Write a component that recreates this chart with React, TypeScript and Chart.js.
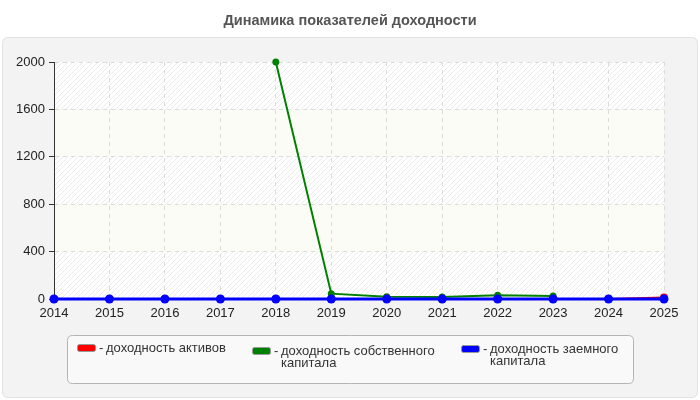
import React, { useRef, useEffect } from "react";
import { Chart, registerables, Plugin } from "chart.js";

Chart.register(...registerables);

const years = ["2014", "2015", "2016", "2017", "2018", "2019", "2020", "2021", "2022", "2023", "2024", "2025"];
const assetsReturn = [0, 0, 0, 0, 0, 0, 0, 0, 0, 0, 0, 12];
const equityReturn = [null, null, null, null, 2000, 45, 18, 17, 32, 25, null, null];
const debtReturn = [0, 0, 0, 0, 0, 0, 0, 0, 0, 0, 0, 0];
const yTicks = [0, 400, 800, 1200, 1600, 2000];

const chartTitle = "Динамика показателей доходности";
const legendItems = [
  { color: "#ff0000", lines: ["доходность активов"] },
  { color: "#008000", lines: ["доходность собственного", "капитала"] },
  { color: "#0000ff", lines: ["доходность заемного", "капитала"] },
];

const FONT = "'Liberation Sans', Arial, sans-serif";

function roundRect(ctx: CanvasRenderingContext2D, x: number, y: number, w: number, h: number, r: number) {
  ctx.beginPath();
  ctx.moveTo(x + r, y);
  ctx.lineTo(x + w - r, y);
  ctx.quadraticCurveTo(x + w, y, x + w, y + r);
  ctx.lineTo(x + w, y + h - r);
  ctx.quadraticCurveTo(x + w, y + h, x + w - r, y + h);
  ctx.lineTo(x + r, y + h);
  ctx.quadraticCurveTo(x, y + h, x, y + h - r);
  ctx.lineTo(x, y + r);
  ctx.quadraticCurveTo(x, y, x + r, y);
  ctx.closePath();
}

function makeHatch(ctx: CanvasRenderingContext2D) {
  const c = document.createElement("canvas");
  c.width = 5;
  c.height = 5;
  const p = c.getContext("2d")!;
  p.fillStyle = "#ffffff";
  p.fillRect(0, 0, 5, 5);
  p.strokeStyle = "#ececec";
  p.lineWidth = 1;
  p.beginPath();
  p.moveTo(0, 5);
  p.lineTo(5, 0);
  p.moveTo(-2.5, 2.5);
  p.lineTo(2.5, -2.5);
  p.moveTo(2.5, 7.5);
  p.lineTo(7.5, 2.5);
  p.stroke();
  return ctx.createPattern(c, "repeat");
}

// panel, title and banded plot background
const backgroundPlugin: Plugin<"line"> = {
  id: "panelBackground",
  beforeDraw(chart) {
    const { ctx, chartArea, scales } = chart;
    ctx.save();
    ctx.fillStyle = "#ffffff";
    ctx.fillRect(0, 0, chart.width, chart.height);

    roundRect(ctx, 2.5, 37.5, 695, 360, 6);
    ctx.fillStyle = "#f3f3f3";
    ctx.fill();
    ctx.strokeStyle = "#e2e2e2";
    ctx.lineWidth = 1;
    ctx.stroke();

    ctx.fillStyle = "#555555";
    ctx.font = `bold 14.5px ${FONT}`;
    ctx.textAlign = "center";
    ctx.textBaseline = "middle";
    ctx.fillText(chartTitle, 350, 21);

    const y = scales.y;
    const hatch = makeHatch(ctx);
    for (let i = 0; i < yTicks.length - 1; i++) {
      const top = y.getPixelForValue(yTicks[i + 1]);
      const bottom = y.getPixelForValue(yTicks[i]);
      ctx.fillStyle = i % 2 === 0 ? (hatch as CanvasPattern) : "#fcfcf6";
      ctx.fillRect(chartArea.left, top, chartArea.right - chartArea.left, bottom - top);
    }
    ctx.restore();
  },
};

// boxed legend under the plot
const legendPlugin: Plugin<"line"> = {
  id: "boxLegend",
  afterDraw(chart) {
    const { ctx } = chart;
    ctx.save();
    roundRect(ctx, 67.5, 335.5, 566, 48, 5);
    ctx.fillStyle = "#f9f9f9";
    ctx.fill();
    ctx.strokeStyle = "#b4b4b4";
    ctx.lineWidth = 1;
    ctx.stroke();

    const starts = [77, 252, 461];
    const rowY = [348, 351, 349];
    ctx.font = `13px ${FONT}`;
    ctx.textBaseline = "middle";
    ctx.textAlign = "left";
    legendItems.forEach((item, i) => {
      const x = starts[i];
      roundRect(ctx, x + 0.5, rowY[i] - 3.5, 18, 7, 2);
      ctx.fillStyle = item.color;
      ctx.fill();
      ctx.strokeStyle = "#999999";
      ctx.stroke();
      ctx.fillStyle = "#333333";
      ctx.fillText("-", x + 22, rowY[i]);
      item.lines.forEach((line, j) => {
        ctx.fillText(line, x + 29, rowY[i] + j * 12);
      });
    });
    ctx.restore();
  },
};

const App: React.FC = () => {
  const canvasRef = useRef<HTMLCanvasElement | null>(null);
  const chartRef = useRef<Chart | null>(null);

  useEffect(() => {
    document.body.style.margin = "0";
    if (!canvasRef.current) return;
    const context = canvasRef.current.getContext("2d");
    if (!context) return;

    if (chartRef.current) {
      chartRef.current.destroy();
    }

    chartRef.current = new Chart(context, {
      type: "line",
      data: {
        labels: years,
        datasets: [
          {
            label: "доходность активов",
            data: assetsReturn,
            borderColor: "#ff0000",
            backgroundColor: "#ff0000",
            borderWidth: 2,
            pointRadius: 4,
            pointBorderWidth: 0,
            clip: false,
            order: 2,
          },
          {
            label: "доходность собственного капитала",
            data: equityReturn,
            borderColor: "#008000",
            backgroundColor: "#008000",
            borderWidth: 2,
            pointRadius: 3.5,
            pointBorderWidth: 0,
            clip: false,
            order: 1,
          },
          {
            label: "доходность заемного капитала",
            data: debtReturn,
            borderColor: "#0000ff",
            backgroundColor: "#0000ff",
            borderWidth: 3,
            pointRadius: 4.5,
            pointBorderWidth: 0,
            clip: false,
            order: 0,
          },
        ] as any,
      },
      options: {
        responsive: false,
        animation: false,
        layout: { padding: { left: 10, right: 36, top: 62, bottom: 81 } },
        plugins: {
          legend: { display: false },
          title: { display: false },
          tooltip: { enabled: false },
        },
        scales: {
          x: {
            offset: false,
            grid: {
              color: "#dcdcdc",
              drawTicks: false,
            },
            border: { display: true, color: "#333333", dash: [4, 4] } as any,
            ticks: {
              color: "#222222",
              padding: 7,
              font: { family: FONT, size: 13 },
              maxRotation: 0,
              autoSkip: false,
            },
            afterFit: (scale: any) => {
              scale.height = 20;
            },
          },
          y: {
            min: 0,
            max: 2000,
            afterBuildTicks: (scale: any) => {
              scale.ticks = yTicks.map((v) => ({ value: v }));
            },
            grid: {
              color: "#dcdcdc",
              tickColor: "#333333",
              tickLength: 5,
            },
            border: { display: true, color: "#333333", dash: [4, 4] } as any,
            ticks: {
              color: "#222222",
              padding: 4,
              font: { family: FONT, size: 13 },
              callback: (v: any) => String(v),
            },
            afterFit: (scale: any) => {
              scale.width = 44;
            },
          },
        },
      },
      plugins: [backgroundPlugin, legendPlugin],
    });

    return () => {
      if (chartRef.current) {
        chartRef.current.destroy();
        chartRef.current = null;
      }
    };
  }, []);

  return (
    <div style={{ width: 700, height: 400 }}>
      <canvas ref={canvasRef} width={700} height={400} style={{ display: "block" }}></canvas>
    </div>
  );
};

export default App;
